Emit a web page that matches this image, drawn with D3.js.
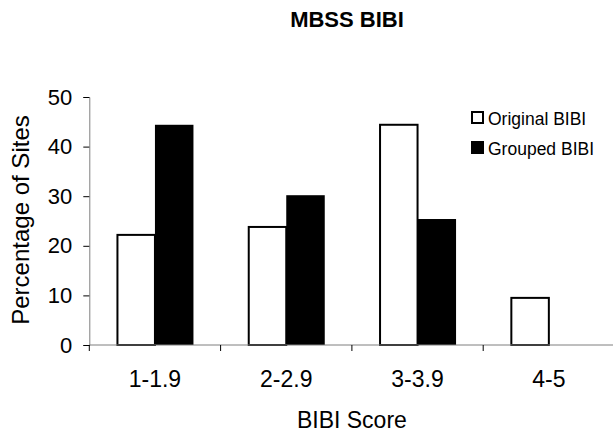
<!DOCTYPE html>
<html>
<head>
<meta charset="utf-8">
<script src="https://cdn.jsdelivr.net/npm/d3@7"></script>
<style>
  html, body { margin: 0; padding: 0; background: #fff; }
  svg { display: block; font-family: Arial, "Liberation Sans", sans-serif; }
</style>
</head>
<body>
<div id="chart"></div>
<script>
const categories = ["1-1.9", "2-2.9", "3-3.9", "4-5"];
const seriesNames = ["Original BIBI", "Grouped BIBI"];
const originalValues = [22.2, 23.8, 44.4, 9.5];
const groupedValues = [44.4, 30.2, 25.4, 0];
const yTicks = [0, 10, 20, 30, 40, 50];
const title = "MBSS BIBI";
const xTitle = "BIBI Score";
const yTitle = "Percentage of Sites";

const W = 613, H = 435;
const left = 89.3, right = 614.5, y0 = 345, yTop = 97;

const svg = d3.select("#chart").append("svg").attr("width", W).attr("height", H);

const x0 = d3.scaleBand().domain(categories).range([left, right]).padding(0);
const x1 = d3.scaleBand().domain(seriesNames).range([0, x0.bandwidth()])
  .paddingInner(0).paddingOuter(0.705);
const y = d3.scaleLinear().domain([0, 50]).range([y0, yTop]);

const rows = categories.map((c, i) => ({
  cat: c,
  vals: [
    { s: seriesNames[0], v: originalValues[i] },
    { s: seriesNames[1], v: groupedValues[i] }
  ]
}));

// Bars
const g = svg.append("g");
const groups = g.selectAll("g.cat").data(rows).join("g")
  .attr("transform", d => `translate(${x0(d.cat)},0)`);
groups.selectAll("rect").data(d => d.vals.filter(e => e.v > 0)).join("rect")
  .attr("x", d => x1(d.s) + (d.s === seriesNames[0] ? 1 : 0))
  .attr("y", d => y(d.v))
  .attr("width", d => x1.bandwidth() - (d.s === seriesNames[0] ? 1 : 0))
  .attr("height", d => y0 - y(d.v))
  .attr("fill", d => d.s === seriesNames[0] ? "#fff" : "#000")
  .attr("stroke", "#000")
  .attr("stroke-width", d => d.s === seriesNames[0] ? 2 : 0);

// Y axis
const yAxis = svg.append("g").attr("transform", `translate(${left},0)`)
  .call(d3.axisLeft(y).tickValues(yTicks).tickSize(6).tickPadding(11).tickFormat(d3.format("d")));
yAxis.select(".domain").attr("stroke", "#7f7f7f");
yAxis.selectAll(".tick line").attr("stroke", "#000");
yAxis.selectAll("text").attr("font-size", "22px").attr("fill", "#000")
  .attr("font-family", "Arial, 'Liberation Sans', sans-serif");

// X axis (ticks at category boundaries)
const xAxisG = svg.append("g").attr("transform", `translate(0,${y0})`);
xAxisG.append("line").attr("x1", left).attr("x2", right).attr("y1", 0).attr("y2", 0)
  .attr("stroke", "#7f7f7f");
const bounds = categories.map(c => x0(c)).concat([right]);
xAxisG.selectAll("line.tk").data(bounds).join("line").attr("class", "tk")
  .attr("x1", d => d).attr("x2", d => d).attr("y1", 0).attr("y2", 6)
  .attr("stroke", "#000");
xAxisG.selectAll("text").data(categories).join("text")
  .attr("x", d => x0(d) + x0.bandwidth() / 2)
  .attr("y", 42)
  .attr("text-anchor", "middle")
  .attr("font-size", "23px")
  .text(d => d);

// Titles
svg.append("text").attr("x", 347).attr("y", 27).attr("text-anchor", "middle")
  .attr("font-size", "22px").attr("font-weight", "bold").text(title);
svg.append("text").attr("x", (left + right) / 2).attr("y", 428).attr("text-anchor", "middle")
  .attr("font-size", "23px").text(xTitle);
svg.append("text").attr("transform", `translate(29,220) rotate(-90)`)
  .attr("text-anchor", "middle").attr("font-size", "24px").text(yTitle);

// Legend
const legend = svg.append("g").attr("transform", "translate(471,111)");
seriesNames.forEach((s, i) => {
  const lg = legend.append("g").attr("transform", `translate(0,${i * 30})`);
  lg.append("rect").attr("x", 1).attr("y", 1).attr("width", i === 0 ? 11 : 13).attr("height", i === 0 ? 11 : 13)
    .attr("transform", i === 0 ? "" : "translate(-1,-1)")
    .attr("fill", i === 0 ? "#fff" : "#000").attr("stroke", "#000").attr("stroke-width", i === 0 ? 2 : 0);
  lg.append("text").attr("x", 17).attr("y", 13.5).attr("font-size", "17.5px").text(s);
});
</script>
</body>
</html>
